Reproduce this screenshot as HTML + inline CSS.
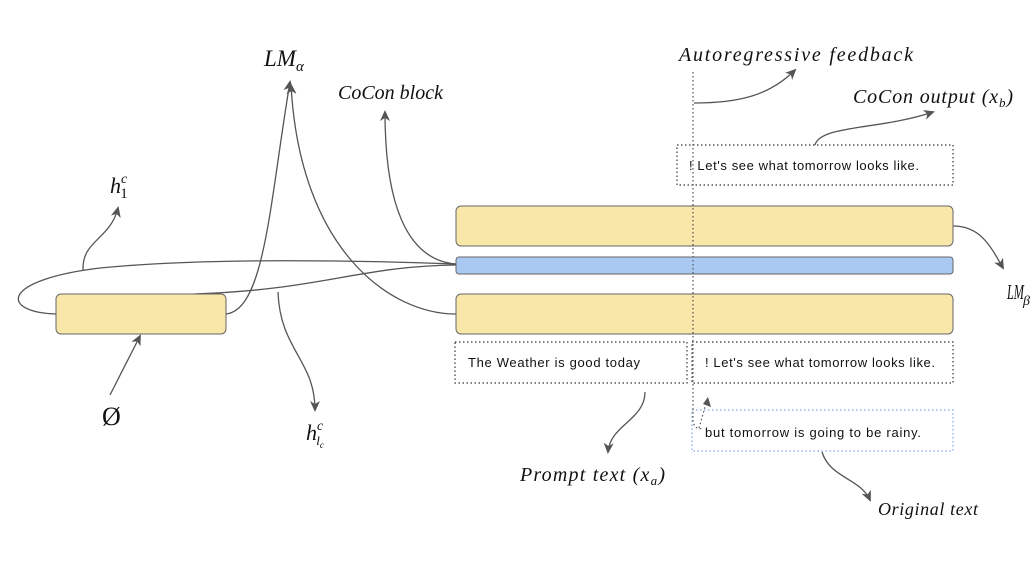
<!DOCTYPE html>
<html><head><meta charset="utf-8"><style>
html,body{margin:0;padding:0;background:#fff;}
svg{display:block;}
.m{font-family:"Liberation Serif",serif;font-style:italic;fill:#111;}
.t{font-family:"Liberation Sans",sans-serif;font-size:13px;fill:#111;}
</style></head><body>
<svg width="1032" height="568" viewBox="0 0 1032 568" xmlns="http://www.w3.org/2000/svg">
<defs>
<marker id="a" markerWidth="12" markerHeight="12" refX="9" refY="6" orient="auto" markerUnits="userSpaceOnUse">
<path d="M0,1 L11,6 L0,11 L3,6 Z" fill="#555"/></marker>
</defs>
<g fill="none" stroke="#555" stroke-width="1.3">
<path d="M456,264 C350,260 200,258 100,268 C0,280 0,312 56,314"/>
<path d="M456,265 C360,266 320,290 194,294"/>
<path d="M83,270 C82,240 110,240 118,208" marker-end="url(#a)"/>
<path d="M226,314 C265,310 270,200 290,82" marker-end="url(#a)"/>
<path d="M456,314 C390,314 300,250 291,85" marker-end="url(#a)"/>
<path d="M456,264 C405,260 385,200 385,112" marker-end="url(#a)"/>
<path d="M278,292 C280,350 315,360 315,410" marker-end="url(#a)"/>
<path d="M110,395 L140,336" marker-end="url(#a)"/>
<path d="M694,103 C740,103 770,95 795,70" marker-end="url(#a)"/>
<path d="M815,145 C820,125 880,130 933,112" marker-end="url(#a)"/>
<path d="M953,226 C980,226 990,245 1003,268" marker-end="url(#a)"/>
<path d="M645,392 C645,420 610,425 608,452" marker-end="url(#a)"/>
<path d="M822,452 C830,478 860,478 870,500" marker-end="url(#a)"/>
</g>
<rect x="56" y="294" width="170" height="40" rx="5" fill="#f8e7a8" stroke="#666"/>
<rect x="456" y="206" width="497" height="40" rx="5" fill="#f8e7a8" stroke="#666"/>
<rect x="456" y="257" width="497" height="17" rx="3" fill="#a9c9f3" stroke="#666"/>
<rect x="456" y="294" width="497" height="40" rx="5" fill="#f8e7a8" stroke="#666"/>
<g fill="none" stroke-width="1.2" stroke-dasharray="1.5,2.5">
<rect x="455" y="342" width="232" height="41" stroke="#333"/>
<rect x="692" y="342" width="261" height="41" stroke="#333"/>
<rect x="677" y="145" width="276" height="40" stroke="#333"/>
<rect x="692" y="410" width="261" height="41" stroke="#7da5ea"/>
<path d="M693,72 L693,420 C693,428 700,430 702,428" stroke="#555"/>
<path d="M699,428 L707,400" stroke="#555"/>
</g>
<path d="M703,404 L708,397 L711,407 Z" fill="#555"/>
<text class="t" x="689" y="170" textLength="230">! Let's see what tomorrow looks like.</text>
<text class="t" x="468" y="367" textLength="172">The Weather is good today</text>
<text class="t" x="705" y="367" textLength="230">! Let's see what tomorrow looks like.</text>
<text class="t" x="705" y="437" textLength="216">but tomorrow is going to be rainy.</text>
<text class="m" x="264" y="66" font-size="23">LM<tspan font-size="15" dy="5">α</tspan></text>
<text class="m" x="338" y="99" font-size="20">CoCon block</text>
<text class="m" x="110" y="193" font-size="22">h<tspan font-size="14" dy="-10">c</tspan><tspan font-size="15" dx="-7" dy="15" style="font-style:normal">1</tspan></text>
<text class="m" x="102" y="425" font-size="26" style="font-style:normal">Ø</text>
<text class="m" x="306" y="440" font-size="22">h<tspan font-size="14" dy="-10">c</tspan><tspan font-size="13" dx="-7" dy="15">l<tspan font-size="9" dy="3">c</tspan></tspan></text>
<text class="m" x="679" y="61" font-size="20" textLength="234">Autoregressive feedback</text>
<text class="m" x="853" y="103" font-size="20" textLength="160">CoCon output (x<tspan font-size="13" dy="4">b</tspan><tspan dy="-4">)</tspan></text>
<text class="m" x="1007" y="299" font-size="21" textLength="17" lengthAdjust="spacingAndGlyphs">LM</text>
<text class="m" x="1023" y="305" font-size="14">β</text>
<text class="m" x="520" y="481" font-size="20" textLength="145">Prompt text (x<tspan font-size="13" dy="4">a</tspan><tspan dy="-4">)</tspan></text>
<text class="m" x="878" y="515" font-size="18" textLength="100">Original text</text>
</svg>
</body></html>
